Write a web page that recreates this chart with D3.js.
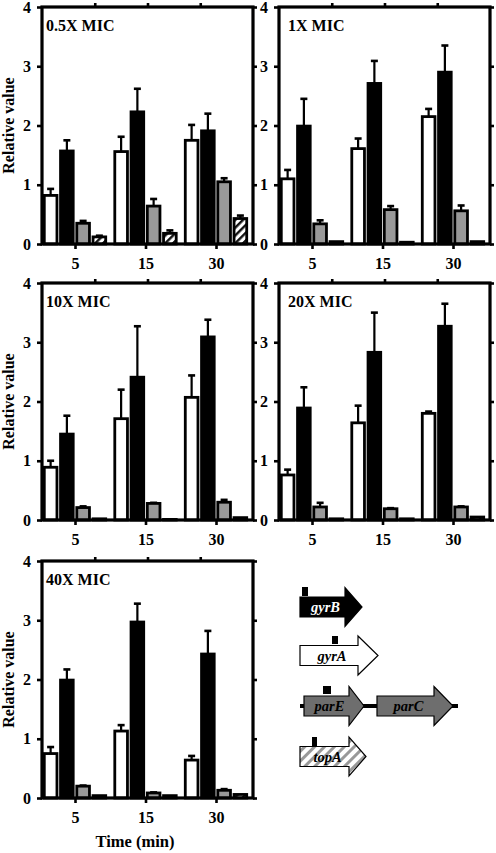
<!DOCTYPE html>
<html><head><meta charset="utf-8">
<script src="https://cdn.jsdelivr.net/npm/d3@7/dist/d3.min.js"></script>
<style>body{margin:0;background:#fff}svg{display:block}</style>
</head><body><svg id="c" width="496" height="853"></svg>
<script>
// ---------- DATA ----------
const panels = ["0.5X MIC", "1X MIC", "10X MIC", "20X MIC", "40X MIC"];
const times = ["5", "15", "30"];
const genes = ["gyrA", "gyrB", "parE", "topA"];
const yTicks = [0, 1, 2, 3, 4];
// values per panel (rows) per time (cols)
const gyrA = [[0.82, 1.56, 1.75], [1.10, 1.61, 2.15], [0.89, 1.71, 2.07], [0.76, 1.64, 1.80], [0.75, 1.13, 0.64]];
const gyrB = [[1.57, 2.23, 1.91], [1.99, 2.71, 2.90], [1.45, 2.41, 3.09], [1.89, 2.83, 3.27], [1.99, 2.97, 2.43]];
const parE = [[0.35, 0.64, 1.05], [0.34, 0.58, 0.56], [0.21, 0.28, 0.30], [0.22, 0.19, 0.22], [0.20, 0.085, 0.13]];
const topA = [[0.12, 0.18, 0.43], [0.04, 0.03, 0.04], [0.02, 0.01, 0.04], [0.02, 0.02, 0.05], [0.04, 0.04, 0.06]];
const gyrAErr = [[0.11, 0.25, 0.26], [0.15, 0.17, 0.13], [0.11, 0.49, 0.37], [0.09, 0.29, 0.03], [0.11, 0.10, 0.07]];
const gyrBErr = [[0.18, 0.39, 0.29], [0.46, 0.38, 0.45], [0.31, 0.86, 0.29], [0.35, 0.67, 0.38], [0.18, 0.31, 0.39]];
const parEErr = [[0.04, 0.12, 0.06], [0.06, 0.06, 0.09], [0.02, 0.01, 0.04], [0.07, 0.01, 0.01], [0.01, 0.01, 0.02]];
const topAErr = [[0.02, 0.05, 0.05], [0, 0, 0], [0, 0, 0], [0, 0, 0], [0, 0, 0]];
const yTitle = "Relative value";
const xTitle = "Time (min)";

// ---------- LAYOUT ----------
const svg = d3.select("#c");
const FONT = "'Liberation Serif', 'Times New Roman', serif";
svg.append("rect").attr("width", 496).attr("height", 853).attr("fill", "#fff");
const defs = svg.append("defs");
function hatch(id, color, gap, sw) {
  const p = defs.append("pattern").attr("id", id).attr("patternUnits", "userSpaceOnUse")
    .attr("width", gap).attr("height", gap).attr("patternTransform", "rotate(45)");
  p.append("rect").attr("width", gap).attr("height", gap).attr("fill", "#fff");
  p.append("rect").attr("x", 0).attr("width", sw).attr("height", gap).attr("fill", color);
}
hatch("hbar", "#111", 5.5, 2.4);
hatch("hleg", "#999", 7, 3);

const fills = { gyrA: "#fff", gyrB: "#000", parE: "#999", topA: "url(#hbar)" };
const valueSets = { gyrA, gyrB, parE, topA };
const errSets = { gyrA: gyrAErr, gyrB: gyrBErr, parE: parEErr, topA: topAErr };

const W = 211, H = 237;
const pos = [
  { x: 42, y: 7, tx: 4, left: true },
  { x: 279, y: 7, tx: 9, left: false },
  { x: 42, y: 283, tx: 4, left: true },
  { x: 279, y: 283, tx: 9, left: false },
  { x: 42, y: 561, tx: 4, left: true }
];

const y = d3.scaleLinear().domain([0, 4]).range([H, 0]);
const xg = d3.scalePoint().domain(times).range([33, 174]);
const xi = d3.scaleBand().domain(genes).range([-32.5, 32.5]).paddingInner(0.22).paddingOuter(0.11);

panels.forEach((name, pi) => {
  const P = pos[pi];
  const g = svg.append("g").attr("transform", `translate(${P.x},${P.y})`);

  // bars
  genes.forEach(gene => {
    times.forEach((t, ti) => {
      const v = valueSets[gene][pi][ti];
      const e = errSets[gene][pi][ti];
      const cx = xg(t) + xi(gene) + xi.bandwidth() / 2;
      if (e > 0) {
        g.append("line").attr("x1", cx).attr("x2", cx).attr("y1", y(v)).attr("y2", y(v + e))
          .attr("stroke", "#000").attr("stroke-width", 2.2);
        g.append("line").attr("x1", cx - 3.5).attr("x2", cx + 3.5).attr("y1", y(v + e)).attr("y2", y(v + e))
          .attr("stroke", "#000").attr("stroke-width", 2.6);
      }
      g.append("rect").attr("x", xg(t) + xi(gene)).attr("width", xi.bandwidth())
        .attr("y", y(v)).attr("height", Math.max(0.5, y(0) - y(v)))
        .attr("fill", fills[gene]).attr("stroke", "#000").attr("stroke-width", 2.8);
    });
  });

  // axes
  const ay = g.append("g").call(d3.axisLeft(y).tickValues(yTicks).tickFormat(d3.format("d")).tickSize(5).tickPadding(6));
  const ar = g.append("g").attr("transform", `translate(${W},0)`).call(d3.axisRight(y).tickValues(yTicks).tickFormat("").tickSize(4));
  const ab = g.append("g").attr("transform", `translate(0,${H})`).call(d3.axisBottom(xg).tickSize(5).tickPadding(9));
  const at = g.append("g").call(d3.axisTop(d3.scaleLinear().domain([0, 4]).range([0, W])).tickValues([1, 2, 3]).tickFormat("").tickSize(4));
  [ay, ar, ab, at].forEach(a => {
    a.select(".domain").remove();
    a.selectAll(".tick line").attr("stroke", "#000").attr("stroke-width", 2.6);
    a.selectAll("text").attr("font-family", FONT).attr("font-weight", "bold").attr("font-size", 16).attr("fill", "#000");
  });
  g.append("rect").attr("x", 0).attr("y", 0).attr("width", W).attr("height", H)
    .attr("fill", "none").attr("stroke", "#000").attr("stroke-width", 3.2);

  g.append("text").attr("x", P.tx).attr("y", 23.5).text(name)
    .attr("font-family", FONT).attr("font-weight", "bold").attr("font-size", 16);

  if (P.left) {
    g.append("text").attr("transform", `translate(${-28},${H / 2}) rotate(-90)`)
      .attr("text-anchor", "middle").text(yTitle)
      .attr("font-family", FONT).attr("font-weight", "bold").attr("font-size", 16);
  }
});

svg.append("text").attr("x", 135).attr("y", 847).attr("text-anchor", "middle").text(xTitle)
  .attr("font-family", FONT).attr("font-weight", "bold").attr("font-size", 16.5);

// ---------- LEGEND (gene map) ----------
const leg = svg.append("g");
function arrow(x0, xb, xt, yc, fill, label, tc, marker) {
  const bh = 10, hh = 19.5;
  leg.append("path").attr("d",
    `M${x0},${yc - bh}L${xb},${yc - bh}L${xb},${yc - hh}L${xt},${yc}L${xb},${yc + hh}L${xb},${yc + bh}L${x0},${yc + bh}Z`)
    .attr("fill", fill).attr("stroke", "#000").attr("stroke-width", 1.2);
  leg.append("text").attr("x", (x0 + xb) / 2 + 3).attr("y", yc + 5).attr("text-anchor", "middle")
    .text(label).attr("font-family", FONT).attr("font-style", "italic").attr("font-weight", "bold")
    .attr("font-size", 14.5).attr("fill", tc);
  if (marker) leg.append("rect").attr("x", marker[0]).attr("y", marker[1]).attr("width", marker[2]).attr("height", marker[3]).attr("fill", "#000");
}
arrow(300, 345, 362, 607, "#000", "gyrB", "#fff", [302, 587, 6, 9]);
arrow(300, 358, 378, 655.5, "#fff", "gyrA", "#000", [332, 636, 6, 8]);
leg.append("line").attr("x1", 300).attr("x2", 458).attr("y1", 706).attr("y2", 706).attr("stroke", "#000").attr("stroke-width", 4);
arrow(304, 349, 364, 706, "#6e6e6e", "parE", "#000", [323, 686, 8, 8]);
arrow(377, 434, 453, 706, "#6e6e6e", "parC", "#000", null);
arrow(300, 349, 366, 756.5, "url(#hleg)", "topA", "#000", [312, 737, 5, 9]);
</script></body></html>
